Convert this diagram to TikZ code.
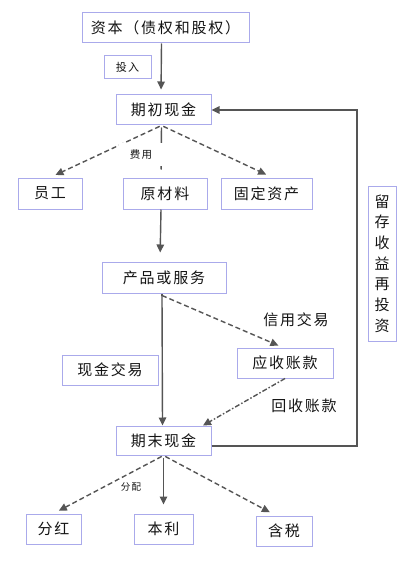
\documentclass[tikz,border=0pt]{standalone}
\usepackage{fontspec}
\setmainfont{Noto Sans CJK SC}[LetterSpace=12]
\usetikzlibrary{arrows.meta}
\definecolor{bx}{RGB}{170,170,235}
\definecolor{ln}{RGB}{85,85,85}
\definecolor{tx}{RGB}{20,20,20}
\tikzset{
  box/.style={draw=bx, line width=1pt, fill=white, inner sep=0pt, text=tx,
    font=\fontsize{15}{15}\selectfont},
  arr/.style={draw=ln, line width=1.4pt, -{Triangle[width=7.5pt,length=8pt]}},
  dsh/.style={arr, dash pattern=on 5pt off 3pt},
  dshdot/.style={arr, dash pattern=on 5pt off 2pt on 1.5pt off 2pt},
  plainln/.style={draw=ln, line width=1.4pt},
  lbl/.style={inner sep=0pt, text=tx, font=\fontsize{15}{15}\selectfont},
  small/.style={inner sep=0pt, fill=white, text=tx, font=\fontsize{10.5}{10.5}\selectfont}
}
\begin{document}
\begin{tikzpicture}[x=1pt,y=-1pt]
\useasboundingbox[fill=white] (0,0) rectangle (402,564);
% boxes
\node[box, minimum width=167pt, minimum height=30pt] (zb) at (165.5,28) {资本（债权和股权）};
\node[box, minimum width=47pt, minimum height=23pt, font=\fontsize{11}{11}\selectfont] (tr) at (127.5,67.5) {投入};
\node[box, minimum width=95pt, minimum height=30pt] (qc) at (163.5,110) {期初现金};
\node[box, minimum width=64pt, minimum height=31pt] (yg) at (50,193.5) {员工};
\node[box, minimum width=84pt, minimum height=31pt] (ycl) at (165,193.5) {原材料};
\node[box, minimum width=91pt, minimum height=31pt] (gd) at (266.5,193.5) {固定资产};
\node[box, minimum width=124pt, minimum height=31pt] (cp) at (164,277.5) {产品或服务};
\node[box, minimum width=96pt, minimum height=30pt] (ys) at (285,363) {应收账款};
\node[box, minimum width=96pt, minimum height=30pt] (xj) at (110,370) {现金交易};
\node[box, minimum width=95pt, minimum height=29pt] (qm) at (163.5,440.5) {期末现金};
\node[box, minimum width=28pt, minimum height=155pt, align=center,
  font=\fontsize{15}{20.7}\selectfont] (lc) at (382,263.5) {留\\存\\收\\益\\再\\投\\资};
\node[box, minimum width=55pt, minimum height=30pt] (fh) at (53.5,529) {分红};
\node[box, minimum width=59pt, minimum height=30pt] (bl) at (163.5,529) {本利};
\node[box, minimum width=56pt, minimum height=30pt] (hs) at (284,531) {含税};
% connectors
\draw[arr, shorten >=5pt] ([xshift=-4pt]zb.south) -- ([xshift=-2.5pt]qc.north);
\draw[dsh, shorten <=2pt, shorten >=6pt] ([xshift=-2pt]qc.south) -- (yg.north);
\draw[dsh, shorten <=2pt, shorten >=7pt] ([xshift=-2pt]qc.south) -- ([xshift=6pt]gd.north);
\draw[plainln, shorten <=2pt, shorten >=8pt] ([xshift=-2pt]qc.south) -- ([xshift=-4pt]ycl.north);
\draw[arr, shorten >=9pt] ([xshift=-4pt]ycl.south) -- ([xshift=-4pt]cp.north);
\draw[plainln] ([xshift=-2pt]cp.south) -- ++(0,2);
\draw[arr] ([xshift=-2pt,yshift=-2pt]cp.south) -- ([xshift=-1pt]qm.north);
\draw[dsh, shorten >=5pt] ([xshift=-2pt,yshift=-2pt]cp.south) -- ([xshift=-2pt]ys.north);
\draw[dshdot] (ys.south) -- ([xshift=39.5pt]qm.north);
\coordinate (rt) at (357,110);
\draw[arr] ([yshift=-5.5pt]qm.east) -| (rt) -- (qc.east);
\draw[dsh, shorten <=2pt, shorten >=6pt] (qm.south) -- (fh.north);
\draw[arr, shorten <=2pt, shorten >=1pt] (qm.south) -- ([yshift=8pt]bl.north);
\draw[dsh, shorten <=2pt, shorten >=7pt] (qm.south) -- ([xshift=-8pt]hs.north);
% labels
\node[small, minimum width=44pt, minimum height=23pt] (fy) at (141,155) {费用};
\node[small, minimum width=26pt, minimum height=14pt, font=\fontsize{9.5}{9.5}\selectfont] (fp) at (131,487) {分配};
\node[lbl] (xy) at (296,320) {信用交易};
\node[lbl] (hk) at (304,406) {回收账款};
\end{tikzpicture}
\end{document}
